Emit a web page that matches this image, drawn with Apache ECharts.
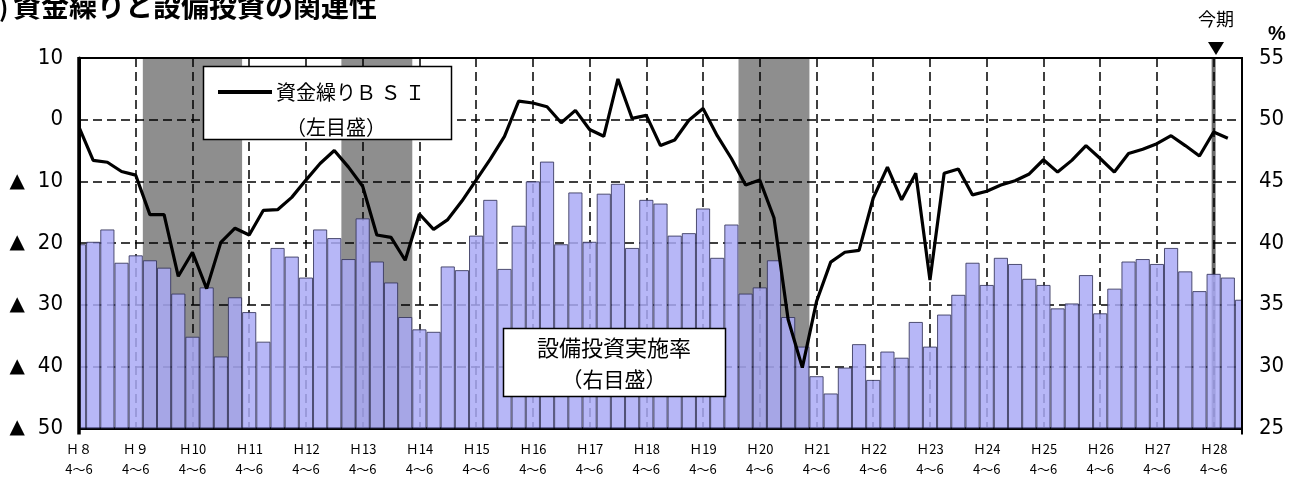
<!DOCTYPE html>
<html><head><meta charset="utf-8">
<script src="https://cdn.jsdelivr.net/npm/echarts@6/dist/echarts.min.js"></script>
<style>html,body{margin:0;padding:0;background:#fff}#c{width:1290px;height:479px}</style>
</head><body><div id="c"></div>
<script>
// ---- data ----
const yearLabels = ['Ｈ８','Ｈ９','Ｈ10','Ｈ11','Ｈ12','Ｈ13','Ｈ14','Ｈ15','Ｈ16','Ｈ17','Ｈ18','Ｈ19','Ｈ20','Ｈ21','Ｈ22','Ｈ23','Ｈ24','Ｈ25','Ｈ26','Ｈ27','Ｈ28'];
const quarterLabels = ['4～6','7～9','10～12','1～3'];
// 資金繰りBSI (left axis, H8 4-6 .. H28 7-9 forecast)
const bsi = [-1.2,-6.6,-6.9,-8.4,-9.0,-15.4,-15.4,-25.4,-21.5,-27.4,-19.9,-17.6,-18.7,-14.7,-14.6,-12.6,
  -9.8,-7.1,-5.0,-7.7,-10.8,-18.7,-19.1,-22.8,-15.3,-17.8,-16.2,-13.2,-9.8,-6.4,-2.7,3.0,
  2.7,2.1,-0.5,1.5,-1.6,-2.7,6.6,0.2,0.7,-4.2,-3.3,-0.1,1.8,-2.6,-6.3,-10.6,
  -9.8,-15.9,-32.4,-40.2,-29.5,-23.1,-21.5,-21.2,-12.7,-7.7,-13.0,-8.7,-26.0,-8.7,-8.0,-12.2,
  -11.6,-10.6,-9.9,-8.8,-6.5,-8.5,-6.6,-4.2,-6.3,-8.5,-5.5,-4.8,-3.9,-2.6,-4.2,-5.9,-2.0,-3.0];
// 設備投資実施率 % (right axis)
const capex = [39.9,40.1,41.1,38.4,39.0,38.6,38.0,35.9,32.4,36.4,30.8,35.6,34.4,32.0,39.6,38.9,
  37.2,41.1,40.4,38.7,42.0,38.5,36.8,34.0,33.0,32.8,38.1,37.8,40.6,43.5,37.9,41.4,
  45.0,46.6,39.9,44.1,40.1,44.0,44.8,39.6,43.5,43.2,40.6,40.8,42.8,38.8,41.5,35.9,
  36.4,38.6,34.0,31.6,29.2,27.8,29.9,31.8,28.9,31.2,30.7,33.6,31.6,34.2,35.8,38.4,
  36.6,38.8,38.3,37.1,36.6,34.7,35.1,37.4,34.3,36.3,38.5,38.7,38.3,39.6,37.7,36.1,
  37.5,37.2,35.4];
// recession periods (first and last quarter index)
const recessions = [[5,11],[19,23],[47,51]];
const currentQuarter = 80; // 今期 = H28 4～6
const leftTicks = {min:-50, max:10, step:10};
const rightTicks = {min:25, max:55, step:5};

// ---- build ----
const categories = capex.map((_, i) => yearLabels[Math.floor(i/4)] + ' ' + quarterLabels[i%4]);
const narrow = "'Liberation Sans Narrow','DejaVu Sans Condensed',sans-serif";
const jp = "'Noto Sans CJK JP',sans-serif";
const dash = {color:'#000', width:1.5, type:[9,5]};

const areas = recessions.map(r => [{xAxis: r[0]-0.5, itemStyle:{color:'#8e8e8e'}}, {xAxis: r[1]+0.5}]);
areas.push([{xAxis: currentQuarter-0.14, itemStyle:{color:'#6a6a6a'}}, {xAxis: currentQuarter+0.14}]);

const chart = echarts.init(document.getElementById('c'), null, {renderer:'canvas'});
chart.setOption({
  animation:false,
  grid:{left:79, right:48, top:58, bottom:46},
  xAxis:[{
    type:'category', data:categories, boundaryGap:false, z:2,
    axisLine:{onZero:false, lineStyle:{color:'#000', width:3}}, axisTick:{show:false},
    axisLabel:{interval:(i)=>i%4===0, margin:11, fontFamily:jp, fontSize:13, color:'#000', lineHeight:20,
      formatter:(v,i)=> yearLabels[Math.floor(i/4)] + '\n' + quarterLabels[0]},
    splitLine:{show:true, interval:(i)=>i%4===0 && i>0, lineStyle:dash}
  },{
    type:'value', position:'top', min:0, max:categories.length-1, z:2,
    axisLine:{show:true, onZero:false, lineStyle:{color:'#000', width:2}},
    axisTick:{show:false}, axisLabel:{show:false}, splitLine:{show:false}
  }],
  yAxis:[{
    type:'value', min:leftTicks.min, max:leftTicks.max, interval:leftTicks.step, z:2,
    axisLine:{show:true, onZero:false, lineStyle:{color:'#000', width:3}}, axisTick:{show:false},
    axisLabel:{margin:16, fontFamily:narrow, fontSize:22, color:'#000',
      formatter:v=> v<0 ? '{t|▲}' + (-v) : String(v),
      rich:{t:{fontSize:20, fontFamily:"'DejaVu Sans',sans-serif", padding:[0,13,0,0]}}},
    splitLine:{show:true, lineStyle:dash}
  },{
    type:'value', position:'right', min:rightTicks.min, max:rightTicks.max, interval:rightTicks.step, z:2,
    axisLine:{show:true, onZero:false, lineStyle:{color:'#000', width:2}}, axisTick:{show:false},
    axisLabel:{margin:17, fontFamily:narrow, fontSize:22, color:'#000'},
    splitLine:{show:false}
  }],
  series:[{
    type:'line', xAxisIndex:1, yAxisIndex:0, data:[[0,null]], symbol:'none', silent:true,
    lineStyle:{opacity:0}, z:1,
    markArea:{silent:true, z:1, data:areas}
  },{
    type:'bar', xAxisIndex:0, yAxisIndex:1, data:capex, barWidth:'100%', z:3, clip:true,
    itemStyle:{color:'#aaaaf6', opacity:0.85, borderColor:'#34345a', borderWidth:1}
  },{
    type:'line', xAxisIndex:0, yAxisIndex:0, data:bsi, symbol:'none', z:6,
    lineStyle:{color:'#000', width:3.2}
  }],
  graphic:[
    // mask half-bars that fall outside the plot frame, then redraw side edges on top
    {type:'rect', z:50, shape:{x:64, y:50, width:14, height:390}, style:{fill:'#fff'}},
    {type:'rect', z:50, shape:{x:1243, y:50, width:14, height:390}, style:{fill:'#fff'}},
    {type:'line', z:51, shape:{x1:79, y1:57, x2:79, y2:434.5}, style:{stroke:'#000', lineWidth:3.5}},
    {type:'line', z:51, shape:{x1:1242, y1:57, x2:1242, y2:434.5}, style:{stroke:'#000', lineWidth:2}},
    {type:'text', left:-1, top:-5, z:100, style:{text:')', font:"bold 25px 'Noto Sans CJK JP'", fill:'#000'}},
    {type:'text', left:13, top:-8, z:100, style:{text:'資金繰りと設備投資の関連性', font:"bold 28px 'Noto Sans CJK JP'", fill:'#000'}},
    {type:'text', x:1216, y:19, z:100, style:{text:'今期', font:"18px 'Noto Sans CJK JP'", fill:'#000', align:'center', verticalAlign:'middle'}},
    {type:'polygon', z:100, shape:{points:[[1208,42],[1224,42],[1216,55]]}, style:{fill:'#000'}},
    {type:'text', x:1277, y:34, z:100, style:{text:'%', font:"bold 20px 'Liberation Sans'", fill:'#000', align:'center', verticalAlign:'middle'}},
    {type:'rect', z:100, shape:{x:203.5, y:66.5, width:248, height:73}, style:{fill:'#fff', stroke:'#000', lineWidth:1.5}},
    {type:'line', z:101, shape:{x1:218, y1:92, x2:272, y2:92}, style:{stroke:'#000', lineWidth:4}},
    {type:'text', z:101, x:276, y:92, style:{text:'資金繰りＢ Ｓ Ｉ', font:"20px 'Noto Sans CJK JP'", fill:'#000', verticalAlign:'middle'}},
    {type:'text', z:101, x:336, y:127, style:{text:'（左目盛）', font:"20px 'Noto Sans CJK JP'", fill:'#000', align:'center', verticalAlign:'middle'}},
    {type:'rect', z:100, shape:{x:503.5, y:328.5, width:222, height:68}, style:{fill:'#fff', stroke:'#000', lineWidth:1.5}},
    {type:'text', z:101, x:614, y:348, style:{text:'設備投資実施率', font:"22px 'Noto Sans CJK JP'", fill:'#000', align:'center', verticalAlign:'middle'}},
    {type:'text', z:101, x:614, y:379, style:{text:'（右目盛）', font:"21px 'Noto Sans CJK JP'", fill:'#000', align:'center', verticalAlign:'middle'}}
  ]
});
</script></body></html>
